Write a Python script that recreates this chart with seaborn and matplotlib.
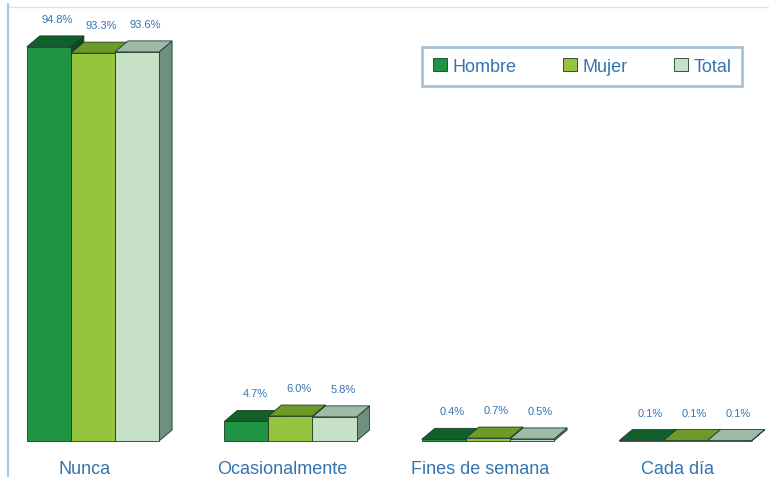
import matplotlib
matplotlib.use("Agg")
import matplotlib.pyplot as plt
from matplotlib.patches import Polygon, Patch
from matplotlib.lines import Line2D
import matplotlib.transforms as mtransforms
import numpy as np
import pandas as pd
import seaborn as sns

# Frecuencia de consumo por sexo (%)
categorias = ["Nunca", "Ocasionalmente", "Fines de semana", "Cada día"]
hombre = [94.8, 4.7, 0.4, 0.1]
mujer = [93.3, 6.0, 0.7, 0.1]
total = [93.6, 5.8, 0.5, 0.1]
series = ["Hombre", "Mujer", "Total"]

front_colors = ["#1f9443", "#97c43d", "#c6e1c6"]
top_colors = ["#11602a", "#6f9a2a", "#9dbba8"]
side_colors = ["#0d4a20", "#5b7f22", "#6f8f80"]
edge_color = "#1b3a2a"
text_color = "#3474b0"

df = pd.DataFrame({
    "categoria": categorias * 3,
    "valor": hombre + mujer + total,
    "serie": [s for s in series for _ in categorias],
})

sns.set_theme(style="white")
plt.rcParams["font.family"] = ["Liberation Sans", "DejaVu Sans"]

fig = plt.figure(figsize=(7.69, 4.81), dpi=100)
W, H = 769, 481
ax = fig.add_axes([8 / W, 1 - 455 / H, 1 - 8 / W, (455 - 8) / H])

sns.barplot(data=df, x="categoria", y="valor", hue="serie", order=categorias,
            hue_order=series, palette=front_colors, width=0.67, gap=0,
            saturation=1, edgecolor=edge_color, linewidth=0.6,
            legend=False, ax=ax)

ax.set_xlim(-0.430, 3.423)
ax.set_ylim(-3.13, 104.4)

# depth of the pseudo-3D extrusion, in pixels
DX_PX, DY_PX = 13, 11
x_per_px = (3.423 + 0.430) / (W - 8)
y_per_px = (104.4 + 3.13) / (455 - 8)
ddx = DX_PX * x_per_px
ddy = DY_PX * y_per_px

for k, cont in enumerate(ax.containers):
    for bar, val in zip(cont.patches, cont.datavalues):
        x0 = bar.get_x()
        w = bar.get_width()
        h = bar.get_height()
        bar.set_zorder(3 + 2 * k)
        side = Polygon([(x0 + w, 0), (x0 + w + ddx, ddy), (x0 + w + ddx, h + ddy), (x0 + w, h)],
                       closed=True, facecolor=side_colors[k], edgecolor=edge_color,
                       linewidth=0.6, zorder=2 + 2 * k)
        top = Polygon([(x0, h), (x0 + w, h), (x0 + w + ddx, h + ddy), (x0 + ddx, h + ddy)],
                      closed=True, facecolor=top_colors[k], edgecolor=edge_color,
                      linewidth=0.6, zorder=2 + 2 * k)
        ax.add_patch(side)
        ax.add_patch(top)
        ax.annotate(f"{val:.1f}%", xy=(x0 + w / 2, h), xytext=(DX_PX / 2 + 2, DY_PX + 17),
                    textcoords="offset pixels", ha="center", va="center",
                    fontsize=8, color=text_color, zorder=20)

ax.set_xlabel("")
ax.set_ylabel("")
ax.set_yticks([])
ax.tick_params(axis="x", length=0, labelsize=13, labelcolor=text_color, pad=4)
shift = mtransforms.ScaledTranslation(-8 / 100, 0, fig.dpi_scale_trans)
for lbl in ax.get_xticklabels():
    lbl.set_transform(lbl.get_transform() + shift)

for s in ["right", "bottom", "left"]:
    ax.spines[s].set_visible(False)
ax.spines["top"].set_color("#eedcd4")
ax.spines["top"].set_linewidth(1.0)

# light blue frame line down the left edge of the chart area
fig.add_artist(Line2D([8 / W, 8 / W], [1 - 5 / H, 1 - 477 / H], transform=fig.transFigure,
                      color="#a9c6dc", linewidth=1.6))

handles = [Patch(facecolor=front_colors[i], edgecolor=edge_color, linewidth=0.6) for i in range(3)]
leg = ax.legend(handles, series, loc="upper right", ncol=3,
                bbox_to_anchor=(751 / W, 1 - 39 / H), bbox_transform=fig.transFigure,
                frameon=True, fancybox=False, fontsize=13, handlelength=0.75,
                handleheight=0.75, handletextpad=0.3, columnspacing=2.6,
                borderpad=0.6, labelcolor=text_color)
leg.get_frame().set_edgecolor("#8fb4d0")
leg.get_frame().set_linewidth(2.0)
leg.set_zorder(30)

fig.savefig("out.png", dpi=100, facecolor="white")
